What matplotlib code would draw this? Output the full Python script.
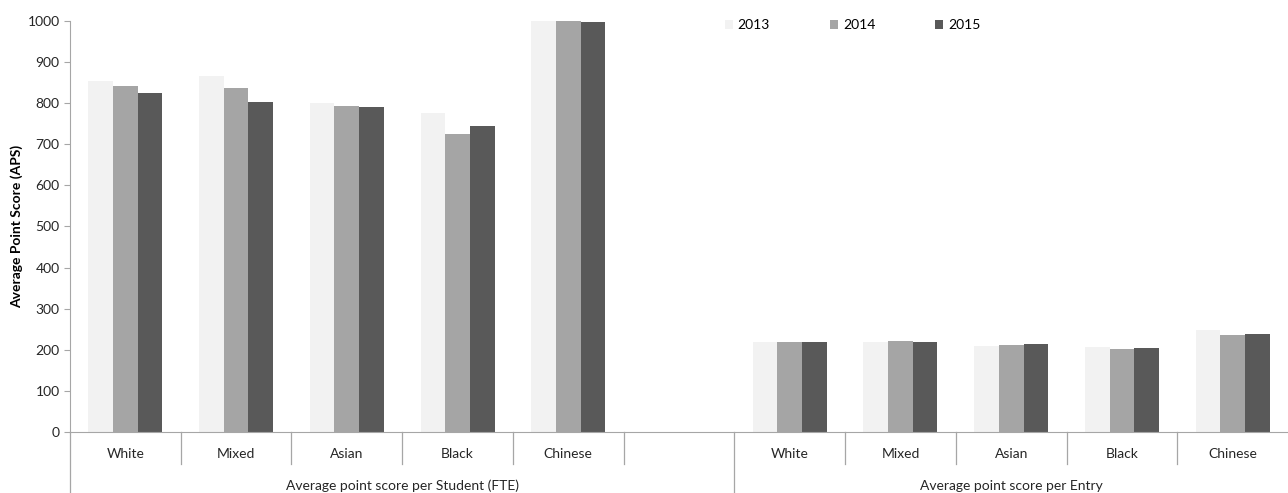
import matplotlib
matplotlib.use("Agg")
import matplotlib.pyplot as plt
import numpy as np
from matplotlib.patches import Patch

plt.rcParams['font.family'] = ['Lato', 'DejaVu Sans']

categories = ["White", "Mixed", "Asian", "Black", "Chinese", "",
              "White", "Mixed", "Asian", "Black", "Chinese"]
groups = ["Average point score per Student (FTE)", "Average point score per Entry"]
years = ["2013", "2014", "2015"]
v2013 = [855, 867, 801, 776, 1005, np.nan, 218, 218, 210, 206, 248]
v2014 = [841, 836, 794, 725, 1005, np.nan, 218, 222, 212, 201, 236]
v2015 = [826, 803, 791, 745, 997, np.nan, 218, 218, 214, 204, 238]
colors = ["#F2F2F2", "#A5A5A5", "#595959"]

fig = plt.figure(figsize=(12.88, 4.93), dpi=100)
ax = fig.add_axes([70/1288, 1-432/493, 1-70/1288, 411/493])

x = np.arange(len(categories))
w = 0.223
for i, (vals, c, lab) in enumerate(zip([v2013, v2014, v2015], colors, years)):
    ax.bar(x + (i-1)*w, vals, width=w, color=c, label=lab, zorder=2)

ax.set_xlim(-0.5, len(categories)-0.5)
ax.set_ylim(0, 1000)
ax.set_yticks(np.arange(0, 1001, 100))
ax.tick_params(axis='y', labelsize=10, length=4, color='#A6A6A6', labelcolor='#262626')
ax.set_xticks([])
for s in ['top', 'right']:
    ax.spines[s].set_visible(False)
ax.spines['left'].set_color('#A6A6A6')
ax.spines['bottom'].set_color('#A6A6A6')
ax.set_ylabel("Average Point Score (APS)", fontsize=10, fontweight='bold', labelpad=3)

trans = ax.get_xaxis_transform()
# category labels
for xi, c in zip(x, categories):
    ax.text(xi, -0.054, c, transform=trans, ha='center', va='center', fontsize=10, color='#262626')
# separators
short = -32/411
long_ = -61/411
for b in np.arange(-0.5, len(categories)-0.5, 1.0):
    if b in (-0.5, 5.5):
        ax.plot([b, b], [0, long_], transform=trans, color='#A6A6A6', lw=0.9, clip_on=False)
    else:
        ax.plot([b, b], [0, short], transform=trans, color='#A6A6A6', lw=0.9, clip_on=False)
# group labels
ax.text(2.5, -0.131, groups[0], transform=trans, ha='center', va='center', fontsize=10, color='#262626')
ax.text(8.0, -0.131, groups[1], transform=trans, ha='center', va='center', fontsize=10, color='#262626')

handles = [Patch(facecolor=c, edgecolor='none', label=l) for c, l in zip(colors, years)]
fig.legend(handles=handles, loc='center left', bbox_to_anchor=(712/1288, 1-25/493),
           ncol=3, frameon=False, fontsize=10, handlelength=0.6, handleheight=0.6,
           handletextpad=0.35, columnspacing=4.3)

fig.savefig("out.png", dpi=100)
